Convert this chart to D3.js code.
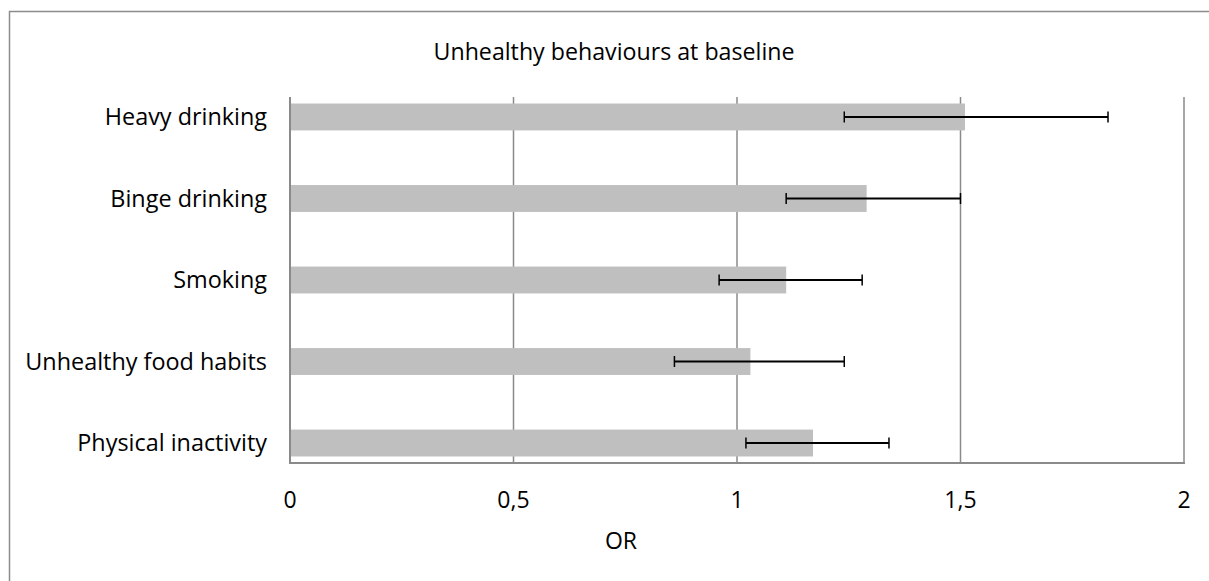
<!DOCTYPE html>
<html>
<head>
<meta charset="utf-8">
<script src="https://d3js.org/d3.v7.min.js"></script>
<style>
  body { margin: 0; background: #fff; }
  text { font-family: "Open Sans", sans-serif; fill: #000; }
</style>
</head>
<body>
<svg id="chart"></svg>
<script>
let width = 1209;
let height = 581;

let categories = ["Heavy drinking", "Binge drinking", "Smoking", "Unhealthy food habits", "Physical inactivity"];
let orValues = [1.51, 1.29, 1.11, 1.03, 1.17];
let ciLow = [1.24, 1.11, 0.96, 0.86, 1.02];
let ciHigh = [1.83, 1.50, 1.28, 1.24, 1.34];
let xTicks = [0, 0.5, 1, 1.5, 2];

let plot = { left: 290, right: 1184, top: 97, bottom: 463 };

const svg = d3.select('#chart')
    .attr('width', width)
    .attr('height', height);

// chart area frame
svg.append('rect')
    .attr('x', 9.5).attr('y', 11.5)
    .attr('width', width + 10).attr('height', height + 10)
    .attr('fill', 'none')
    .attr('stroke', '#8c8c8c')
    .attr('stroke-width', 1.5);

let xScale = d3.scaleLinear()
    .domain([0, 2])
    .range([plot.left, plot.right]);

let yScale = d3.scaleBand()
    .domain(categories)
    .range([plot.top, plot.bottom])
    .paddingInner(0.67)
    .paddingOuter(0.08);

// gridlines
svg.append('g')
    .selectAll('line')
    .data(xTicks)
    .enter()
    .append('line')
        .attr('x1', d => xScale(d))
        .attr('x2', d => xScale(d))
        .attr('y1', plot.top)
        .attr('y2', plot.bottom)
        .attr('stroke', '#8a8a8a')
        .attr('stroke-width', 1.5);

// bars
svg.append('g')
    .selectAll('rect')
    .data(categories)
    .enter()
    .append('rect')
        .attr('x', xScale(0))
        .attr('y', d => yScale(d))
        .attr('width', (d, i) => xScale(orValues[i]) - xScale(0))
        .attr('height', yScale.bandwidth())
        .attr('fill', '#bfbfbf');

// axes lines
svg.append('line')
    .attr('x1', plot.left).attr('x2', plot.left)
    .attr('y1', plot.top).attr('y2', plot.bottom + 1)
    .attr('stroke', '#8a8a8a').attr('stroke-width', 2);
svg.append('line')
    .attr('x1', plot.left).attr('x2', plot.right + 1)
    .attr('y1', plot.bottom).attr('y2', plot.bottom)
    .attr('stroke', '#8a8a8a').attr('stroke-width', 2);

// error bars
let err = svg.append('g')
    .selectAll('g')
    .data(categories)
    .enter()
    .append('g')
        .attr('transform', d => `translate(0,${yScale(d) + yScale.bandwidth() / 2})`);

err.append('line')
    .attr('x1', (d, i) => xScale(ciLow[i]))
    .attr('x2', (d, i) => xScale(ciHigh[i]))
    .attr('stroke', '#000').attr('stroke-width', 2);
err.append('line')
    .attr('x1', (d, i) => xScale(ciLow[i]))
    .attr('x2', (d, i) => xScale(ciLow[i]))
    .attr('y1', -5.5).attr('y2', 5.5)
    .attr('stroke', '#000').attr('stroke-width', 1.5);
err.append('line')
    .attr('x1', (d, i) => xScale(ciHigh[i]))
    .attr('x2', (d, i) => xScale(ciHigh[i]))
    .attr('y1', -5.5).attr('y2', 5.5)
    .attr('stroke', '#000').attr('stroke-width', 1.5);

// category labels
svg.append('g')
    .selectAll('text')
    .data(categories)
    .enter()
    .append('text')
        .attr('x', 267)
        .attr('y', d => yScale(d) + yScale.bandwidth() / 2)
        .attr('dy', '0.35em')
        .attr('text-anchor', 'end')
        .attr('font-size', 23.4)
        .text(d => d);

// x tick labels
svg.append('g')
    .selectAll('text')
    .data(xTicks)
    .enter()
    .append('text')
        .attr('x', d => xScale(d))
        .attr('y', 500)
        .attr('dy', '0.35em')
        .attr('text-anchor', 'middle')
        .attr('font-size', 23)
        .text(d => String(d).replace('.', ','));

svg.append('text')
    .attr('x', 621)
    .attr('y', 541)
    .attr('dy', '0.35em')
    .attr('text-anchor', 'middle')
    .attr('font-size', 23)
    .text('OR');

svg.append('text')
    .attr('x', 614)
    .attr('y', 52)
    .attr('dy', '0.35em')
    .attr('text-anchor', 'middle')
    .attr('font-size', 23.2)
    .text('Unhealthy behaviours at baseline');
</script>
</body>
</html>
